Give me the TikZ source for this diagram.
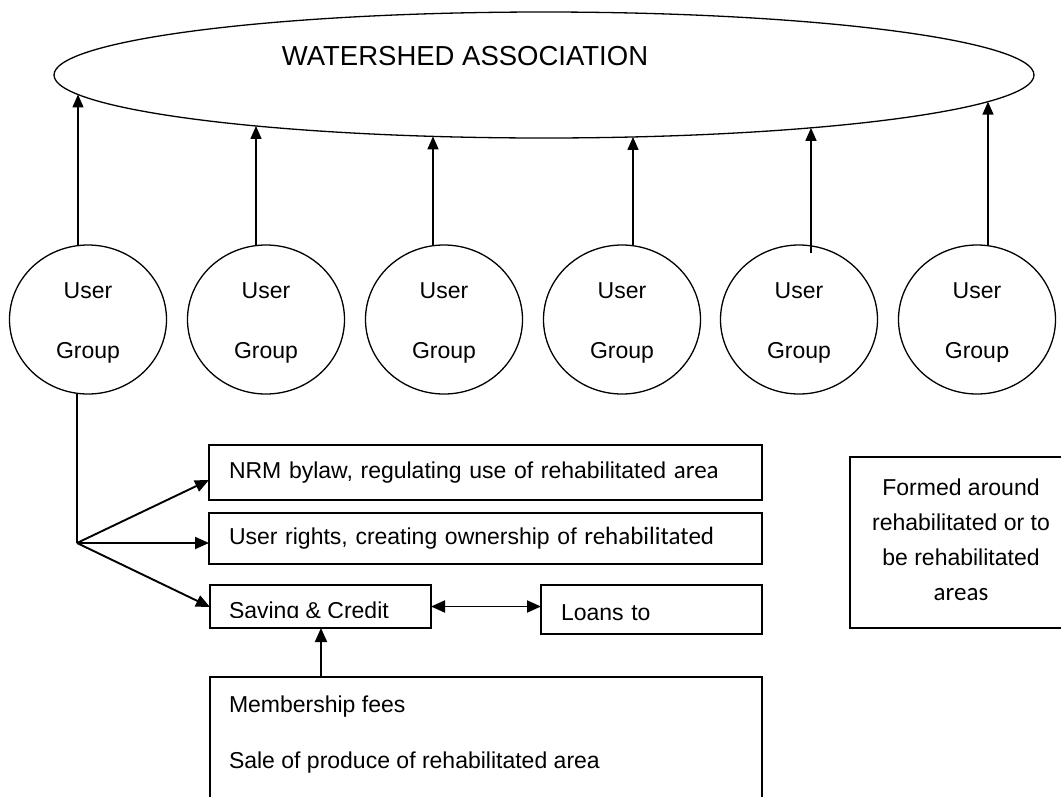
\documentclass[tikz,border=0pt]{standalone}
\usepackage{fontspec}
\setmainfont{Liberation Sans}
\newfontfamily\calibfont{Carlito}
\usetikzlibrary{shapes.geometric,arrows.meta,calc}
\begin{document}
\begin{tikzpicture}[x=1pt,y=-1pt,
  every node/.style={inner sep=0pt, outer sep=0pt},
  ugroup/.style={draw, ellipse, line width=1.3pt, minimum width=157pt, minimum height=149pt, align=center, font=\fontsize{23}{60}\selectfont},
  boxnode/.style={draw, rectangle, line width=1.8pt, anchor=north west},
  arr/.style={line width=1.9pt, -{Triangle[length=14pt,width=12pt]}},
  varr/.style={line width=1.5pt, -{Triangle[length=13pt,width=11pt]}},
  darr/.style={line width=1.9pt, {Triangle[length=14pt,width=12pt]}-{Triangle[length=14pt,width=12pt]}},
  conn/.style={line width=1.5pt},
  txt/.style={font=\fontsize{23}{28}\selectfont},
]
\useasboundingbox (0,0) rectangle (1061,796);
\fill[white] (0,0) rectangle (1061,796);
\clip (0,0) rectangle (1061,796);

% association
\node[draw, ellipse, line width=1.3pt, minimum width=980pt, minimum height=126pt] (wa) at (544,75) {};
\node[anchor=base, font=\fontsize{27.5}{32}\selectfont] (watxt) at (465,65) {WATERSHED ASSOCIATION};

% user groups
\node[ugroup] (c1) at (88,319.5) {\rule{0pt}{22.5pt}User\\Group};
\node[ugroup] (c2) at (266,319.5) {\rule{0pt}{22.5pt}User\\Group};
\node[ugroup] (c3) at (444,319.5) {\rule{0pt}{22.5pt}User\\Group};
\node[ugroup] (c4) at (622,319.5) {\rule{0pt}{22.5pt}User\\Group};
\node[ugroup] (c5) at (799,319.5) {\rule{0pt}{22.5pt}User\\Group};
\node[ugroup] (c6) at (977,319.5) {\rule{0pt}{22.5pt}User\\Grou{\calibfont\fontsize{25}{60}\selectfont p}};

% arrow tips on the ellipse border
\foreach \i/\x in {1/78,2/256,3/433,4/633,5/811,6/988}{
  \pgfmathsetmacro\ty{75+63*sqrt(1-((\x-544)/490)^2)}
  \coordinate (t\i) at (\x,\ty);
}
\coordinate (s5) at ([yshift=-8pt]c5.north);
\draw[varr] (c1.north -| t1) -- (t1);
\draw[varr] (c2.north -| t2) -- (t2);
\draw[varr] (c3.north -| t3) -- (t3);
\draw[varr] (c4.north -| t4) -- (t4);
\draw[varr] (s5 -| t5) -- (t5);
\draw[varr] (c6.north -| t6) -- (t6);

% boxes
\node[boxnode, minimum width=553pt, minimum height=55pt, text width=513pt, align=left, txt] (nrm) at (209,445)
  {NRM bylaw, regulating use of rehabilitated {\calibfont\fontsize{25}{28}\selectfont area}};
\node[boxnode, minimum width=553pt, minimum height=51pt, text width=513pt, align=left, txt] (ur) at (209,513)
  {User rights, creating ownership of {\calibfont\fontsize{25}{28}\selectfont rehabilitated}};
\node[boxnode, minimum width=221pt, minimum height=43pt] (sav) at (210,585) {};
\begin{scope}
  \clip (210,585) rectangle (431,617);
  \node[txt, anchor=base west] (savtxt) at (229,618.5) {Saving \& Credit};
\end{scope}
\node[boxnode, minimum width=221pt, minimum height=49pt, text width=181pt, align=left, txt] (loans) at (541,585) {\rule{0pt}{22.5pt}Loans to};
\node[boxnode, minimum width=552pt, minimum height=150pt] (mem) at (210,677) {};
\node[txt, anchor=base west] (m1) at (229,712) {Membership fees};
\node[txt, anchor=base west] (m2) at (229,768) {Sale of produce of rehabilitated area};
\node[boxnode, minimum width=222pt, minimum height=171pt, align=center, font=\fontsize{23}{35}\selectfont] (formed) at (850,457)
  {Formed around\\rehabilitated or to\\be rehabilitated\\{\calibfont\fontsize{25}{35}\selectfont areas}\vphantom{g}};

% connectors
\coordinate (br) at (77,543);
\draw[conn] (c1.south -| br) -- (br);
\draw[arr] (br) -- ([yshift=-7.5pt]nrm.west);
\draw[arr] (br) -- (br -| ur.west);
\draw[arr] (br) -- ([yshift=-0.5pt]sav.west);
\draw[darr] (sav.east) -- (sav.east -| loans.west);
\coordinate (mtop) at (321,677);
\draw[arr] (mtop) -- (mtop |- sav.south);
\end{tikzpicture}
\end{document}
